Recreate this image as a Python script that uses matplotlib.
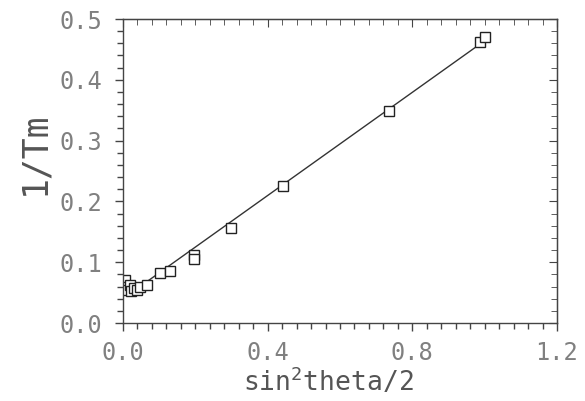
import matplotlib
matplotlib.use("Agg")
import matplotlib.pyplot as plt
from matplotlib.ticker import MultipleLocator

# Measured points: reciprocal Tm vs sin^2(theta/2)
sin2 = [0.005, 0.008, 0.012, 0.018, 0.022, 0.030, 0.040, 0.048, 0.065,
        0.102, 0.130, 0.196, 0.196, 0.298, 0.443, 0.736, 0.987, 1.001]
inv_tm = [0.070, 0.060, 0.055, 0.063, 0.052, 0.058, 0.055, 0.059, 0.062,
          0.082, 0.086, 0.112, 0.106, 0.157, 0.225, 0.349, 0.463, 0.471]

# Linear fit through the data
fit_x = [0.04, 0.99]
fit_y = [0.057, 0.460]

x_ticks = [0.0, 0.4, 0.8, 1.2]
y_ticks = [0.0, 0.1, 0.2, 0.3, 0.4, 0.5]

plt.rcParams["font.family"] = ["DejaVu Sans Mono", "DejaVu Sans"]
plt.rcParams["mathtext.fontset"] = "custom"
plt.rcParams["mathtext.rm"] = "DejaVu Sans Mono"
plt.rcParams["mathtext.default"] = "regular"

fig = plt.figure(figsize=(5.85, 4.01), dpi=100)
ax = fig.add_axes([0.2103, 0.1945, 0.7418, 0.7581])

ax.plot(fit_x, fit_y, color="#333333", lw=1.0)
ax.plot(sin2, inv_tm, ls="none", marker="s", ms=7.5, mfc="white",
        mec="#222222", mew=1.0)

ax.set_xlim(0, 1.2)
ax.set_ylim(0, 0.5)
ax.set_xticks(x_ticks)
ax.set_yticks(y_ticks)
ax.set_xticklabels([f"{v:.1f}" for v in x_ticks])
ax.set_yticklabels([f"{v:.1f}" for v in y_ticks])
ax.xaxis.set_minor_locator(MultipleLocator(0.04))
ax.yaxis.set_minor_locator(MultipleLocator(0.02))

for s in ax.spines.values():
    s.set_color("#444444")
    s.set_linewidth(1.0)

ax.tick_params(which="major", direction="out", length=6, width=1,
               color="#444444", labelsize=17, labelcolor="#808080", pad=7)
ax.tick_params(axis="y", which="major", pad=9)
ax.tick_params(which="minor", direction="out", length=4, width=1,
               color="#444444")

# Inward ticks on the top and right frame
top = ax.secondary_xaxis("top")
top.set_xticks(x_ticks)
top.xaxis.set_minor_locator(MultipleLocator(0.04))
top.tick_params(which="both", direction="in", labeltop=False, color="#444444")
top.tick_params(which="major", length=6)
top.tick_params(which="minor", length=4)
right = ax.secondary_yaxis("right")
right.set_yticks(y_ticks)
right.yaxis.set_minor_locator(MultipleLocator(0.02))
right.tick_params(which="both", direction="in", labelright=False, color="#444444")
right.tick_params(which="major", length=6)
right.tick_params(which="minor", length=4)

fig.text(328 / 585, 1 - 382 / 401, "sin$^2$theta/2", fontsize=19,
         color="#555555", ha="center", va="center")
fig.text(34 / 585, 1 - 153 / 401, "1/Tm", fontsize=25, color="#555555",
         ha="center", va="center", rotation=90)

fig.savefig("out.png", dpi=100)
